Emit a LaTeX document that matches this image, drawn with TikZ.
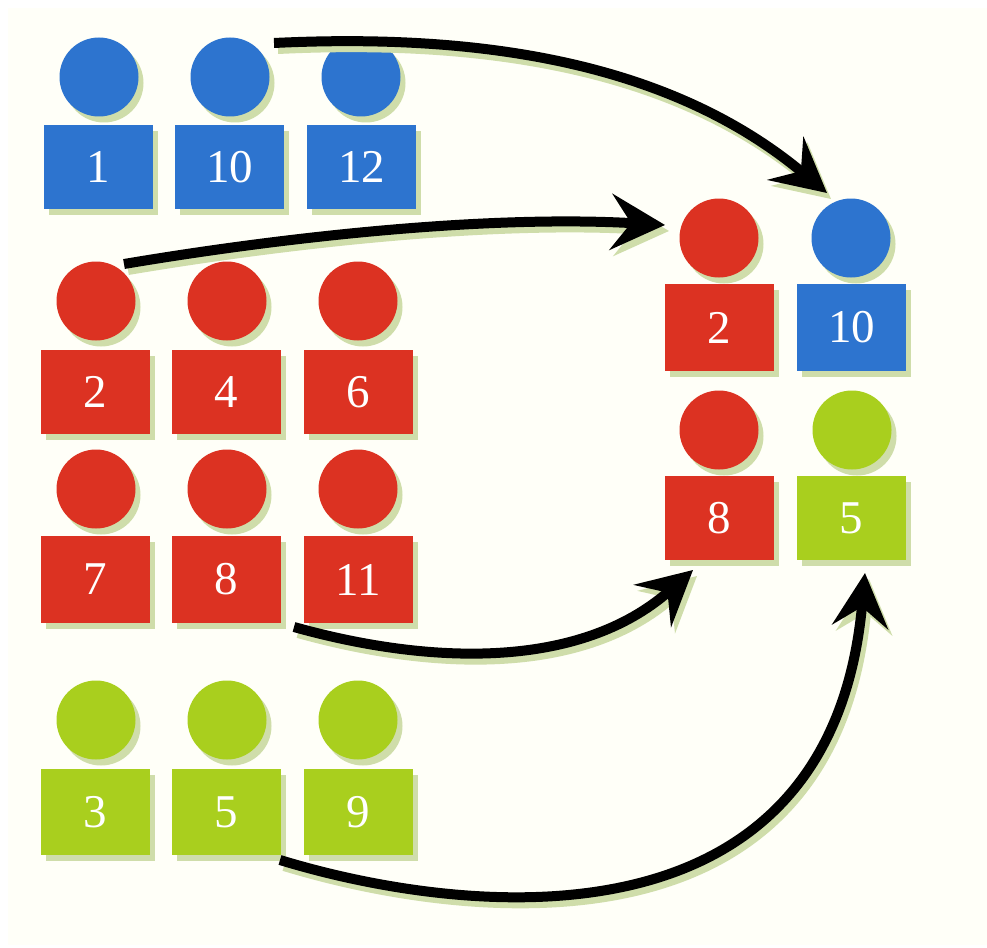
\documentclass[tikz,border=0pt]{standalone}
\usepackage{fontspec}
\setmainfont{Liberation Serif}
\usetikzlibrary{arrows.meta,shadows}
\definecolor{cream}{HTML}{FFFFF8}
\definecolor{pblue}{HTML}{2D74CF}
\definecolor{pred}{HTML}{DC3222}
\definecolor{pgreen}{HTML}{A9CF1E}
\definecolor{softgreen}{HTML}{CFDDAA}
\tikzset{
  x=1pt,y=-1pt,
  softshadow/.style={drop shadow={shadow xshift=5pt,shadow yshift=-6pt,fill=softgreen,opacity=1}},
  head/.style={circle,inner sep=0pt,minimum size=79pt,softshadow},
  body/.style={rectangle,inner sep=0pt,minimum width=109pt,text=white,font=\fontsize{47}{47}\selectfont,softshadow},
  linktip/.style={-{Stealth[length=54pt,width=56pt,inset=20pt]}},
  link/.style={line width=10pt,draw=black,line cap=butt,linktip},
  linkshade/.style={line width=10pt,draw=softgreen,line cap=butt,linktip,transform canvas={shift={(4pt,-6pt)}}}
}
% name, colour, head x, head y, body x, body y, body height, label
\newcommand{\person}[8]{%
  \node[head,fill=#2] (#1h) at (#3,#4) {};
  \node[body,fill=#2,minimum height=#7pt] (#1b) at (#5,#6) {#8};
}
\newcommand{\linkone}{(s1) .. controls (480,33) and (670,62) .. (t1)}
\newcommand{\linktwo}{(s2) .. controls (290,236) and (490,215) .. (t2)}
\newcommand{\linkthree}{(s3) .. controls (430,665) and (580,670) .. (t3)}
\newcommand{\linkfour}{(s4) .. controls (460,915) and (830,960) .. (t4)}
\begin{document}
\begin{tikzpicture}
\useasboundingbox (0,0) rectangle (987,947);
\fill[white] (0,0) rectangle (987,947);
\fill[cream] (8,8) rectangle (987,945);
% blue row
\person{a}{pblue}{99}{77}{98.5}{167}{84}{1}
\person{b}{pblue}{230}{77}{229.5}{167}{84}{10}
\person{c}{pblue}{361}{77}{361.5}{167}{84}{12}
% red rows
\person{d}{pred}{96}{301}{95.5}{392}{84}{2}
\person{e}{pred}{227}{301}{226.5}{392}{84}{4}
\person{f}{pred}{358}{301}{358.5}{392}{84}{6}
\person{g}{pred}{96}{489}{95.5}{579.5}{87}{7}
\person{h}{pred}{227}{489}{226.5}{579.5}{87}{8}
\person{i}{pred}{358}{489}{358.5}{579.5}{87}{11}
% green row
\person{j}{pgreen}{96}{720}{95.5}{812}{86}{3}
\person{k}{pgreen}{227}{720}{226.5}{812}{86}{5}
\person{l}{pgreen}{358}{720}{358.5}{812}{86}{9}
% result
\person{m}{pred}{719}{238}{719.5}{327.5}{87}{2}
\person{n}{pblue}{851}{238}{851.5}{327.5}{87}{10}
\person{o}{pred}{719}{430}{719.5}{518}{84}{8}
\person{p}{pgreen}{852}{430}{851.5}{518}{84}{5}
% connector ends
\coordinate (s1) at (274,43);  \coordinate (t1) at (827,193);
\coordinate (s2) at (124,264); \coordinate (t2) at (665,225);
\coordinate (s3) at (294,627); \coordinate (t3) at (693,570);
\coordinate (s4) at (280,860); \coordinate (t4) at (865,573);
\draw[linkshade] \linkone;
\draw[linkshade] \linktwo;
\draw[linkshade] \linkthree;
\draw[linkshade] \linkfour;
\draw[link] \linkone;
\draw[link] \linktwo;
\draw[link] \linkthree;
\draw[link] \linkfour;
\end{tikzpicture}
\end{document}
